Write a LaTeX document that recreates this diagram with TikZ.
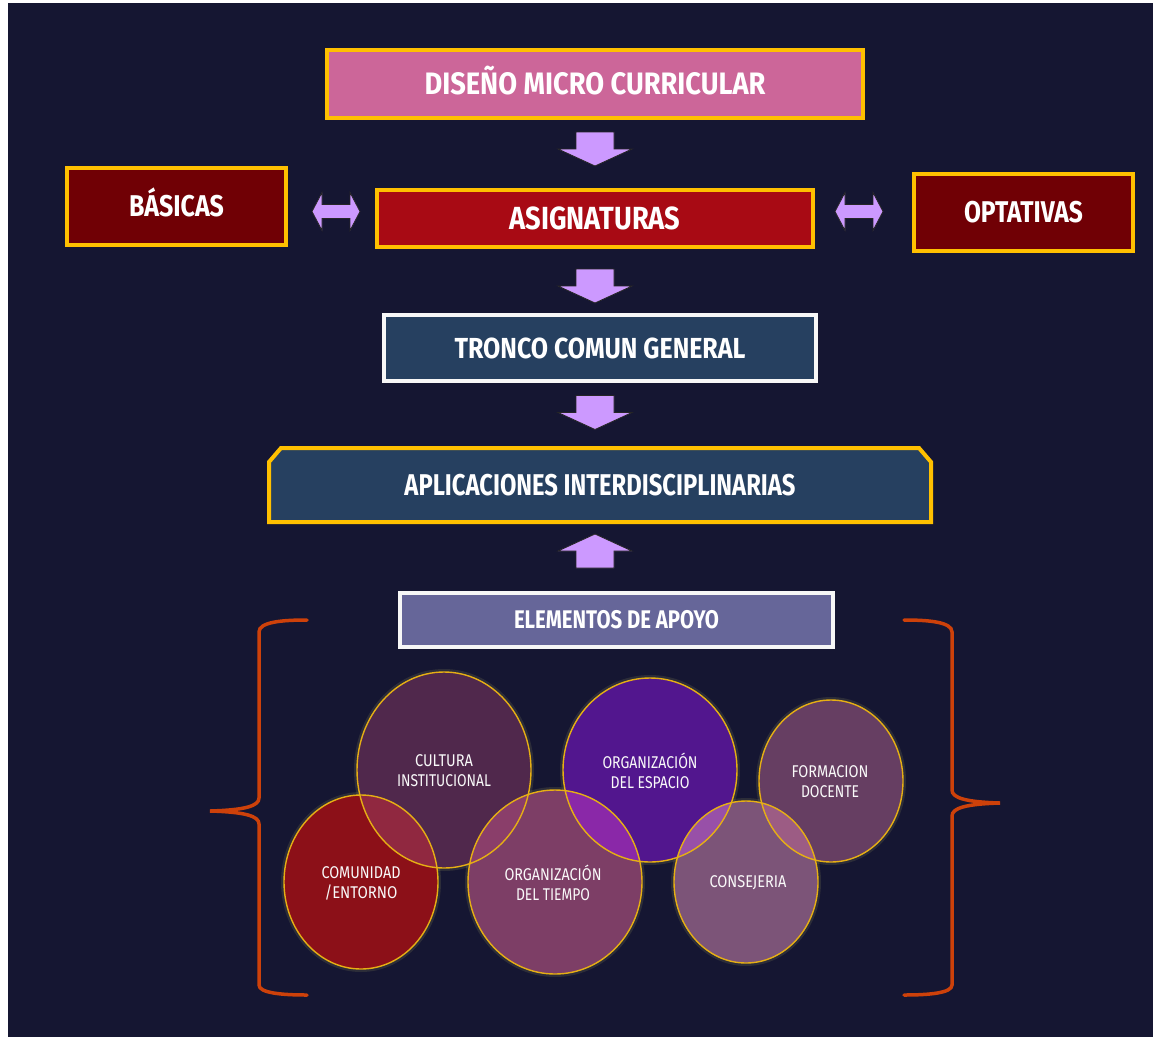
\documentclass[tikz,border=0pt]{standalone}
\usepackage{fontspec}
\setmainfont{Fira Sans}
\usetikzlibrary{calc}
\definecolor{bg}{RGB}{21,22,50}
\definecolor{gold}{RGB}{255,192,0}
\definecolor{pinkbox}{RGB}{204,102,153}
\definecolor{darkred}{RGB}{112,0,5}
\definecolor{redbox}{RGB}{168,10,20}
\definecolor{navy}{RGB}{38,64,96}
\definecolor{slate}{RGB}{102,102,153}
\definecolor{lilac}{RGB}{204,153,255}
\definecolor{bracecol}{RGB}{205,65,10}
\definecolor{cCult}{RGB}{80,40,76}
\definecolor{cEsp}{RGB}{82,22,142}
\definecolor{cForm}{RGB}{102,62,98}
\definecolor{cCom}{RGB}{140,16,24}
\definecolor{cTiem}{RGB}{125,62,102}
\definecolor{cCons}{RGB}{124,84,120}
\definecolor{oCultCom}{RGB}{144,40,64}
\definecolor{oCultTiem}{RGB}{138,62,106}
\definecolor{oEspTiem}{RGB}{138,40,168}
\definecolor{oEspCons}{RGB}{152,80,168}
\definecolor{oFormCons}{RGB}{156,92,132}
\definecolor{ringcol}{RGB}{230,175,20}
\newcommand\fitw[2]{\resizebox{#1}{\height}{#2}}
\tikzset{
  btitle/.style={font=\bfseries\fontsize{#1}{#1}\selectfont, text=white, text height=0.69*#1pt, text depth=0pt},
  gbox/.style={draw=gold, line width=4pt, rectangle, inner sep=0pt},
  wbox/.style={draw=white!94!gray, line width=4pt, rectangle, inner sep=0pt},
  blockarrow/.style={fill=lilac, draw=black!85, line width=0.8pt, line join=miter},
  bracestyle/.style={draw=bracecol, line width=3.5pt, line cap=round},
  ring/.style={draw=ringcol, line width=1.4pt},
  glow/.style={draw=yellow!50!white, line width=6pt, opacity=0.10},
  ctext/.style={text=white!95!gray, align=center, font=\fontsize{17}{20}\selectfont, inner sep=0pt},
  darr/.pic={\path[blockarrow] (-19,-17) -- (19,-17) -- (19,0) -- (37,0) -- (0,17) -- (-37,0) -- (-19,0) -- cycle;},
  uarr/.pic={\path[blockarrow] (-19,17) -- (19,17) -- (19,0) -- (37,0) -- (0,-17) -- (-37,0) -- (-19,0) -- cycle;},
  dblarr/.pic={\path[blockarrow] (-24,0) -- (-14,-19) -- (-14,-7) -- (14,-7) -- (14,-19) -- (24,0) -- (14,19) -- (14,7) -- (-14,7) -- (-14,19) -- cycle;},
  pCult/.style={insert path={(444,770) ellipse [x radius=87pt, y radius=98pt]}},
  pEsp/.style={insert path={(650,770) ellipse [x radius=87pt, y radius=92pt]}},
  pForm/.style={insert path={(831,781) ellipse [x radius=72pt, y radius=81pt]}},
  pCom/.style={insert path={(361,882) ellipse [x radius=77pt, y radius=87pt]}},
  pTiem/.style={insert path={(555,882) ellipse [x radius=87pt, y radius=92pt]}},
  pCons/.style={insert path={(746,882) ellipse [x radius=72pt, y radius=81pt]}},
}
\begin{document}
\begin{tikzpicture}[x=1pt,y=-1pt]
\useasboundingbox (0,0) rectangle (1153,1036);
\fill[white] (-5,-5) rectangle (1165,1045);
\fill[bg] (8,3) rectangle (1165,1045);

% boxes
\node[gbox, fill=pinkbox, minimum width=536pt, minimum height=68pt, btitle=31] (dis) at (595,84) {\fitw{341pt}{DISEÑO MICRO CURRICULAR}};
\node[gbox, fill=darkred, minimum width=219pt, minimum height=77pt, btitle=30] (bas) at (176.5,206.5) {\fitw{95pt}{BÁSICAS}};
\node[gbox, fill=redbox, minimum width=436pt, minimum height=57pt, btitle=32] (asig) at (595,218.5) {\fitw{171pt}{ASIGNATURAS}};
\node[gbox, fill=darkred, minimum width=219pt, minimum height=77pt, btitle=30] (opt) at (1023.5,212.5) {\fitw{119pt}{OPTATIVAS}};
\node[wbox, fill=navy, minimum width=432pt, minimum height=66pt, btitle=29] (tron) at (600,348) {\fitw{291pt}{TRONCO COMUN GENERAL}};
\draw[draw=gold, line width=4pt, fill=navy, line join=miter] (269,522) -- (269,462) -- (281,448) -- (919,448) -- (931,462) -- (931,522) -- cycle;
\node[inner sep=0pt, minimum width=662pt, minimum height=74pt, btitle=30] (apl) at (600,485) {\fitw{391pt}{APLICACIONES INTERDISCIPLINARIAS}};
\node[wbox, fill=slate, minimum width=433pt, minimum height=54pt, btitle=25.5] (elem) at (616.5,620) {\fitw{205pt}{ELEMENTOS DE APOYO}};

% block arrows
\pic (a1) at (595,149) {darr};
\pic (a2) at (595,286) {darr};
\pic (a3) at (595,412.5) {darr};
\pic (a4) at (595,551) {uarr};
\pic (d1) at (336,211.5) {dblarr};
\pic (d2) at (859,211.5) {dblarr};

% braces
\draw[bracestyle] (307,620) .. controls (282,620) and (259,622) .. (259,632) -- (259,798)
  .. controls (259,806) and (245,810) .. (210,811)
  .. controls (245,812) and (259,816) .. (259,824) -- (259,985)
  .. controls (259,993) and (282,995) .. (307,995);
\draw[bracestyle] (904,620) .. controls (929,620) and (952,622) .. (952,632) -- (952,790)
  .. controls (952,798) and (966,802) .. (1000,803)
  .. controls (966,804) and (952,808) .. (952,816) -- (952,985)
  .. controls (952,993) and (929,995) .. (904,995);

% ellipses
\foreach \p in {pCult,pEsp,pForm,pCom,pTiem,pCons} {\draw[glow, \p];}
\fill[cCult, pCult];
\fill[cEsp, pEsp];
\fill[cForm, pForm];
\fill[cCom, pCom];
\fill[cTiem, pTiem];
\fill[cCons, pCons];
\begin{scope}\clip[pCult]; \fill[oCultCom, pCom];\end{scope}
\begin{scope}\clip[pCult]; \fill[oCultTiem, pTiem];\end{scope}
\begin{scope}\clip[pEsp]; \fill[oEspTiem, pTiem];\end{scope}
\begin{scope}\clip[pEsp]; \fill[oEspCons, pCons];\end{scope}
\begin{scope}\clip[pForm]; \fill[oFormCons, pCons];\end{scope}
\foreach \p in {pCult,pEsp,pForm,pCom,pTiem,pCons} {\draw[ring, \p];}

\node[ctext] (cult) at (444,771) {\fitw{58pt}{CULTURA}\\\fitw{94pt}{INSTITUCIONAL}};
\node[ctext] (esp) at (650,771) {\fitw{95pt}{ORGANIZACIÓN}\\\fitw{79pt}{DEL ESPACIO}};
\node[ctext] (form) at (830,782) {\fitw{77pt}{FORMACION}\\\fitw{58pt}{DOCENTE}};
\node[ctext] (com) at (361,883) {\fitw{79pt}{COMUNIDAD}\\\fitw{73pt}{/ENTORNO}};
\node[ctext] (tiem) at (553,883) {\fitw{97pt}{ORGANIZACIÓN}\\\fitw{74pt}{DEL TIEMPO}};
\node[ctext] (cons) at (748,883) {\fitw{77pt}{CONSEJERIA}};
\end{tikzpicture}
\end{document}
